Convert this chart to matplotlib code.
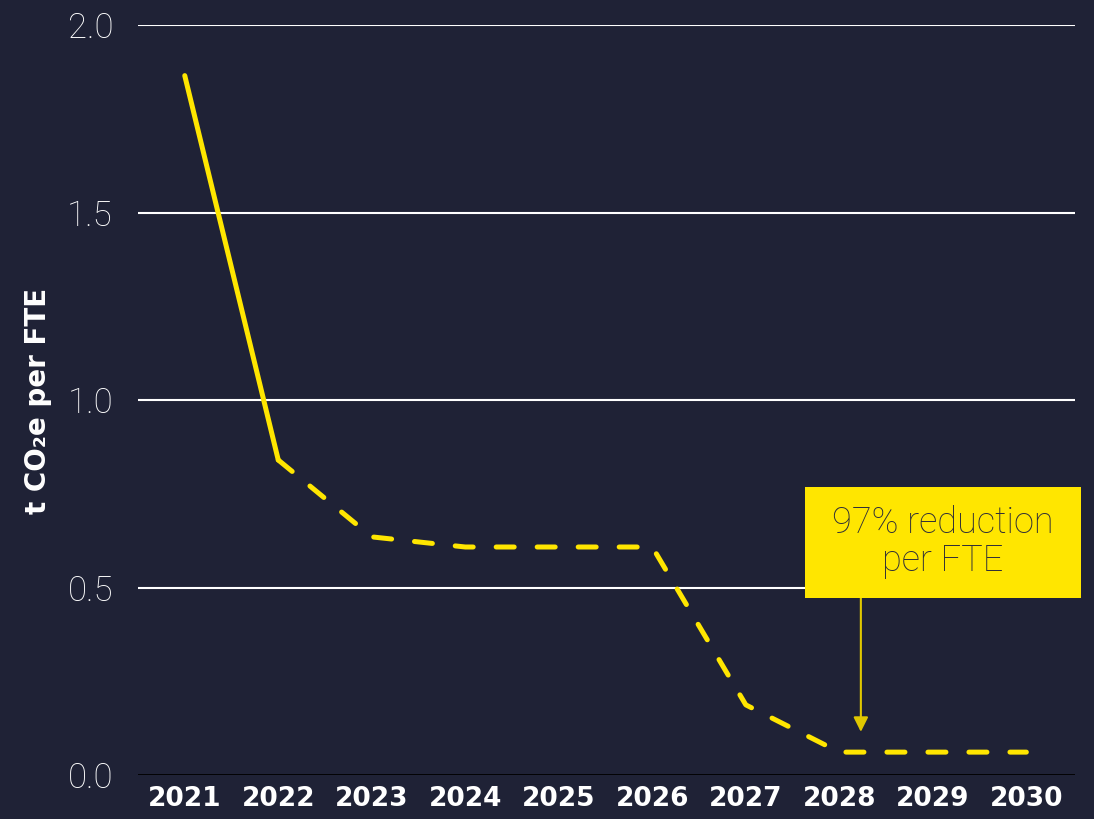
import matplotlib.pyplot as plt
from matplotlib.patches import Rectangle

# Data
years = [2021, 2022, 2023, 2024, 2025, 2026, 2027, 2028, 2029, 2030]
values = [1.865, 0.84, 0.635, 0.608, 0.608, 0.608, 0.187, 0.061, 0.061, 0.061]
y_ticks = [0.0, 0.5, 1.0, 1.5, 2.0]
note_text = '97% reduction\nper FTE'
note_year = 2028.23

bg = '#1f2236'
yellow = '#ffe600'
light_font = 'Roboto'

fig = plt.figure(figsize=(10.94, 8.19), dpi=100, facecolor=bg)
ax = fig.add_axes([138 / 1094, 44 / 819, 937 / 1094, 750 / 819])
ax.set_facecolor(bg)

# Gridlines and baseline
for y in y_ticks[1:]:
    ax.axhline(y, color='white', lw=1.5, zorder=1)
ax.axhline(0, color='black', lw=2, zorder=1)

# Actual (solid) and target path (dashed)
ax.plot(years[:2], values[:2], color=yellow, lw=3.6, solid_capstyle='round',
        solid_joinstyle='round', zorder=3)
ax.plot(years[1:], values[1:], color=yellow, lw=3.6, dashes=(3.6, 4.6),
        dash_capstyle='round', dash_joinstyle='round', zorder=3)

ax.set_xlim(2020.5, 2030.52)
ax.set_ylim(0, 2.0)
ax.set_xticks(years)
ax.set_xticklabels([str(y) for y in years], fontsize=19, fontweight='bold',
                   color='white', family='DejaVu Sans')
ax.set_yticks(y_ticks)
ax.set_yticklabels([f'{t:.1f}' for t in y_ticks], fontsize=25, color='white',
                   family=light_font, fontweight='light')
ax.tick_params(axis='both', length=0)
ax.tick_params(axis='y', pad=18)
ax.tick_params(axis='x', pad=8)
for s in ax.spines.values():
    s.set_visible(False)

fig.text(38 / 1094, (819 - 401) / 819, 't CO\u2082e per FTE', rotation=90,
         ha='center', va='center', fontsize=20, fontweight='bold',
         color='white', family='DejaVu Sans')

# Callout box with arrow
ax.annotate('', xy=(note_year, 0.115), xytext=(note_year, 0.472),
            arrowprops=dict(arrowstyle='-|>', color='#e0c800', lw=1.5,
                            mutation_scale=22, shrinkA=0, shrinkB=0),
            zorder=4)
box = Rectangle((805 / 1094, (819 - 598) / 819), 276 / 1094, 111 / 819,
                transform=fig.transFigure, facecolor=yellow, edgecolor='none',
                zorder=5)
fig.patches.append(box)
fig.text(943 / 1094, (819 - 542) / 819, note_text, ha='center', va='center',
         fontsize=26, color='#2e2e38', family=light_font, fontweight='light',
         linespacing=1.1, zorder=6)

fig.savefig('out.png', dpi=100, facecolor=bg)
